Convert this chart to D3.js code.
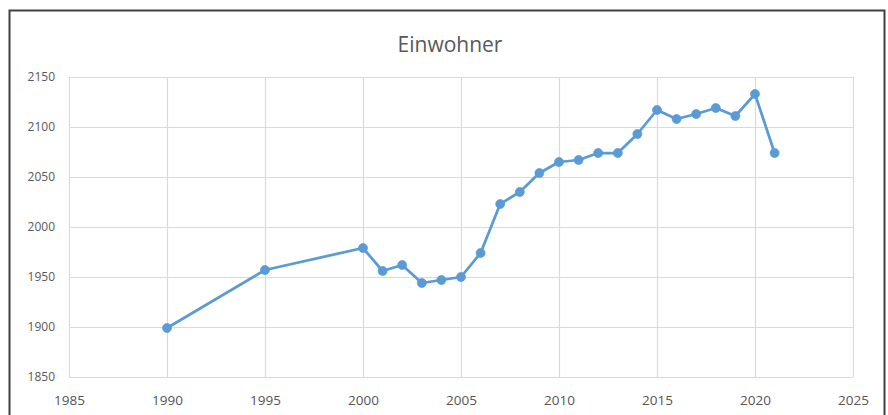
<!DOCTYPE html>
<html>
<head>
<meta charset="utf-8">
<script src="https://cdn.jsdelivr.net/npm/d3@7"></script>
<style>
  html, body { margin: 0; padding: 0; background: #ffffff; }
  svg { display: block; }
</style>
</head>
<body>
<svg id="chart" width="888" height="415"></svg>
<script>
const title = "Einwohner";
const years = [1990, 1995, 2000, 2001, 2002, 2003, 2004, 2005, 2006, 2007, 2008, 2009, 2010, 2011, 2012, 2013, 2014, 2015, 2016, 2017, 2018, 2019, 2020, 2021];
const einwohner = [1899, 1957, 1979, 1956, 1962, 1944, 1947, 1950, 1974, 2023, 2035, 2054, 2065, 2067, 2074, 2074, 2093, 2117, 2108, 2113, 2119, 2111, 2133, 2074];
const xTicks = [1985, 1990, 1995, 2000, 2005, 2010, 2015, 2020, 2025];
const yTicks = [1850, 1900, 1950, 2000, 2050, 2100, 2150];

const svg = d3.select("#chart");
const plot = { left: 69, right: 853, top: 77, bottom: 377 };

// outer frame
svg.append("rect")
  .attr("x", 9.5).attr("y", 10.5)
  .attr("width", 875).attr("height", 420)
  .attr("fill", "#ffffff")
  .attr("stroke", "#404040").attr("stroke-width", 2);

const x = d3.scaleLinear().domain([1985, 2025]).range([plot.left, plot.right]);
const y = d3.scaleLinear().domain([1850, 2150]).range([plot.bottom, plot.top]);

// gridlines
svg.append("g")
  .attr("transform", `translate(0,${plot.bottom})`)
  .call(d3.axisBottom(x).tickValues(xTicks).tickSize(-(plot.bottom - plot.top)).tickFormat(""))
  .call(g => g.select(".domain").remove())
  .call(g => g.selectAll("line").attr("stroke", "#dadada").attr("stroke-width", 1.2));

svg.append("g")
  .attr("transform", `translate(${plot.left},0)`)
  .call(d3.axisLeft(y).tickValues(yTicks).tickSize(-(plot.right - plot.left)).tickFormat(""))
  .call(g => g.select(".domain").remove())
  .call(g => g.selectAll("line").attr("stroke", "#dadada").attr("stroke-width", 1.2));

// tick labels
svg.append("g")
  .attr("transform", `translate(0,${plot.bottom})`)
  .call(d3.axisBottom(x).tickValues(xTicks).tickSize(0).tickPadding(18).tickFormat(d3.format("d")))
  .call(g => g.select(".domain").remove())
  .call(g => g.selectAll("text")
    .attr("font-family", "'Open Sans', sans-serif")
    .attr("font-size", 13.5)
    .attr("fill", "#555555"));

svg.append("g")
  .attr("transform", `translate(${plot.left},0)`)
  .call(d3.axisLeft(y).tickValues(yTicks).tickSize(0).tickPadding(14).tickFormat(d3.format("d")))
  .call(g => g.select(".domain").remove())
  .call(g => g.selectAll("text")
    .attr("font-family", "'Open Sans', sans-serif")
    .attr("font-size", 12)
    .attr("fill", "#595959"));

// title
svg.append("text")
  .attr("x", 450).attr("y", 52)
  .attr("text-anchor", "middle")
  .attr("font-family", "'Open Sans', sans-serif")
  .attr("font-size", 21)
  .attr("fill", "#595959")
  .text(title);

// line
const data = years.map((yr, i) => ({ yr, v: einwohner[i] }));
const line = d3.line().x(d => x(d.yr)).y(d => y(d.v));
svg.append("path")
  .datum(data)
  .attr("d", line)
  .attr("fill", "none")
  .attr("stroke", "#5b9bd5")
  .attr("stroke-width", 2.75)
  .attr("stroke-linejoin", "round");

svg.append("g").selectAll("circle")
  .data(data)
  .join("circle")
  .attr("cx", d => x(d.yr))
  .attr("cy", d => y(d.v))
  .attr("r", 4.5)
  .attr("fill", "#5b9bd5")
  .attr("stroke", "#5b9bd5")
  .attr("stroke-width", 0.75);
</script>
</body>
</html>
